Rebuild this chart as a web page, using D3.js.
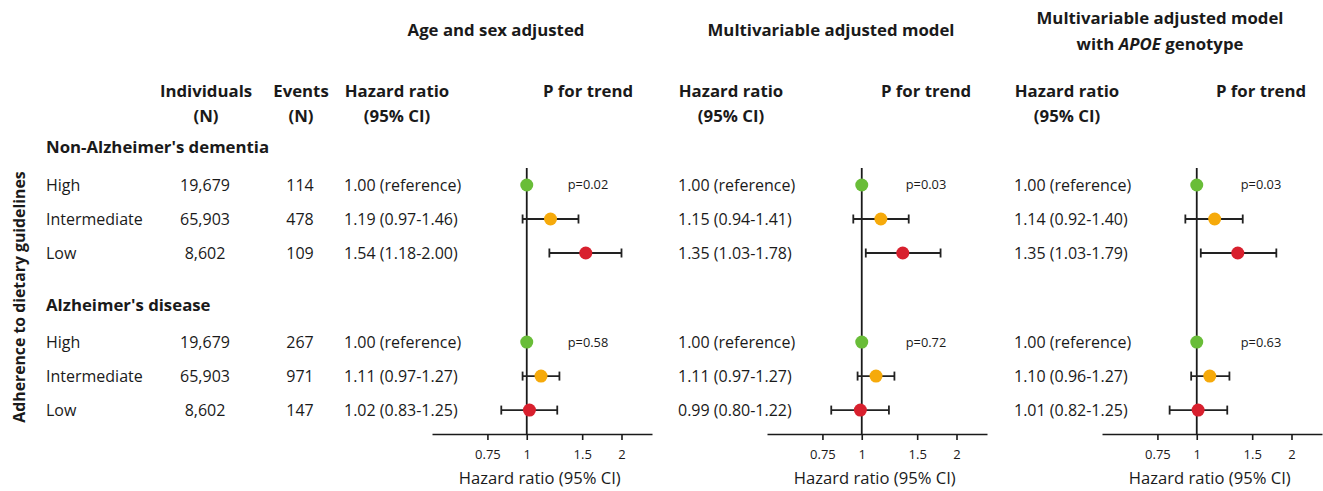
<!DOCTYPE html>
<html>
<head>
<meta charset="utf-8">
<script src="https://cdn.jsdelivr.net/npm/d3@7"></script>
<style>
  body { margin: 0; background: #fff; }
  text { font-family: "Open Sans", "DejaVu Sans", sans-serif; fill: #1a1a1a; }
  .bold { font-weight: 700; }
</style>
</head>
<body>
<div id="chart"></div>
<script>
// chart size (same as the window)
var svgWidth = 1323;
var svgHeight = 491;

// ---- data ----
var groups = ["Non-Alzheimer's dementia", "Alzheimer's disease"];
var levels = ["High", "Intermediate", "Low"];
var individuals = ["19,679", "65,903", "8,602"];
var events = [[114, 478, 109], [267, 971, 147]];

var models = ["Age and sex adjusted", "Multivariable adjusted model", "Multivariable adjusted model with APOE genotype"];

// hazard ratios [group][level] for each model
var hrAge = [[1.00, 1.19, 1.54], [1.00, 1.11, 1.02]];
var loAge = [[1.00, 0.97, 1.18], [1.00, 0.97, 0.83]];
var hiAge = [[1.00, 1.46, 2.00], [1.00, 1.27, 1.25]];

var hrMulti = [[1.00, 1.15, 1.35], [1.00, 1.11, 0.99]];
var loMulti = [[1.00, 0.94, 1.03], [1.00, 0.97, 0.80]];
var hiMulti = [[1.00, 1.41, 1.78], [1.00, 1.27, 1.22]];

var hrApoe = [[1.00, 1.14, 1.35], [1.00, 1.10, 1.01]];
var loApoe = [[1.00, 0.92, 1.03], [1.00, 0.96, 0.82]];
var hiApoe = [[1.00, 1.40, 1.79], [1.00, 1.27, 1.25]];

var pTrend = [["0.02", "0.03", "0.03"], ["0.58", "0.72", "0.63"]];

var tickValues = [0.75, 1, 1.5, 2];
var levelColors = ["#69bd38", "#f6aa0b", "#d8202e"];

// ---- layout ----
var panels = [
  { hrX: 344, pX: 588, left: 432, right: 652, hr: hrAge, lo: loAge, hi: hiAge },
  { hrX: 678, pX: 926, left: 767, right: 987, hr: hrMulti, lo: loMulti, hi: hiMulti },
  { hrX: 1014, pX: 1261, left: 1102, right: 1322, hr: hrApoe, lo: loApoe, hi: hiApoe }
];

var axisY = 434;
var lineTop = 168;
var bodyFs = "16px";
var headerFs = "16.8px";

// row slots -> pixel y
var yScale = d3.scaleLinear().domain([0, 1]).range([185, 219]);
var groupOffset = [0, 4.62];
var headerSlot = -1.1;

var svg = d3
  .select("#chart")
  .append("svg")
  .attr("width", svgWidth)
  .attr("height", svgHeight);

function fmt(v) { return v.toFixed(2); }

// y axis label (rotated)
svg.append("text")
  .attr("class", "bold")
  .attr("transform", "translate(19, 297) rotate(-90)")
  .attr("text-anchor", "middle")
  .attr("dy", "0.35em")
  .attr("font-size", "15.8px")
  .text("Adherence to dietary guidelines");

// column headers
function header(x, y, txt) {
  svg.append("text")
    .attr("class", "bold")
    .attr("x", x)
    .attr("y", y)
    .attr("text-anchor", "middle")
    .attr("dy", "0.35em")
    .attr("font-size", headerFs)
    .text(txt);
}
header(206, 91, "Individuals");
header(206, 116, "(N)");
header(301, 91, "Events");
header(301, 116, "(N)");

// model titles
header(496, 30, models[0]);
header(831, 30, models[1]);
header(1160, 18, "Multivariable adjusted model");
var apoe = svg.append("text")
  .attr("class", "bold")
  .attr("x", 1160)
  .attr("y", 44)
  .attr("text-anchor", "middle")
  .attr("dy", "0.35em")
  .attr("font-size", headerFs);
apoe.append("tspan").text("with ");
apoe.append("tspan").attr("font-style", "italic").text("APOE");
apoe.append("tspan").text(" genotype");

panels.forEach(function(p) {
  var hrCenter = p.hrX + 53;
  header(hrCenter, 91, "Hazard ratio");
  header(hrCenter, 116, "(95% CI)");
  header(p.pX, 91, "P for trend");
});

// group headers and row text
groups.forEach(function(g, gi) {
  svg.append("text")
    .attr("class", "bold")
    .attr("x", 46)
    .attr("y", yScale(groupOffset[gi] + headerSlot))
    .attr("dy", "0.35em")
    .attr("font-size", headerFs)
    .text(g);

  levels.forEach(function(lev, li) {
    var y = yScale(groupOffset[gi] + li);
    svg.append("text").attr("x", 46).attr("y", y).attr("dy", "0.35em")
      .attr("font-size", bodyFs).text(lev);
    svg.append("text").attr("x", 205).attr("y", y).attr("dy", "0.35em")
      .attr("text-anchor", "middle").attr("font-size", bodyFs).text(individuals[li]);
    svg.append("text").attr("x", 300).attr("y", y).attr("dy", "0.35em")
      .attr("text-anchor", "middle").attr("font-size", bodyFs).text(events[gi][li]);
  });
});

// forest panels
panels.forEach(function(p, pi) {
  var x = d3.scaleLog().base(2).domain([0.5, 2.5]).range([p.left, p.right]);

  var bottomAxis = d3.axisBottom(x)
    .tickValues(tickValues)
    .tickSize(6)
    .tickSizeOuter(0)
    .tickPadding(10)
    .tickFormat(d => d3.format("")(d));

  var axisG = svg.append("g")
    .attr("transform", `translate(0, ${axisY})`)
    .call(bottomAxis);
  axisG.select(".domain").attr("stroke", "#1a1a1a").attr("stroke-width", 1.6);
  axisG.selectAll(".tick line").attr("stroke", "#1a1a1a").attr("stroke-width", 1.6);
  axisG.selectAll(".tick text")
    .attr("font-size", "13px")
    .attr("font-family", "'Open Sans', sans-serif")
    .attr("fill", "#1a1a1a");

  // axis title
  svg.append("text")
    .attr("x", x(1) + 13)
    .attr("y", 478)
    .attr("dy", "0.35em")
    .attr("text-anchor", "middle")
    .attr("font-size", "16.6px")
    .text("Hazard ratio (95% CI)");

  // reference line at HR = 1
  svg.append("line")
    .attr("x1", x(1)).attr("x2", x(1))
    .attr("y1", lineTop).attr("y2", axisY)
    .attr("stroke", "#1a1a1a")
    .attr("stroke-width", 1.8);

  groups.forEach(function(g, gi) {
    // p for trend, on the "High" row
    svg.append("text")
      .attr("x", p.pX)
      .attr("y", yScale(groupOffset[gi]))
      .attr("dy", "0.35em")
      .attr("text-anchor", "middle")
      .attr("font-size", "12.8px")
      .text("p=" + pTrend[gi][pi]);

    levels.forEach(function(lev, li) {
      var y = yScale(groupOffset[gi] + li);
      var hr = p.hr[gi][li], lo = p.lo[gi][li], hi = p.hi[gi][li];

      svg.append("text")
        .attr("x", p.hrX)
        .attr("y", y)
        .attr("dy", "0.35em")
        .attr("font-size", bodyFs)
        .text(li === 0 ? "1.00 (reference)" : `${fmt(hr)} (${fmt(lo)}-${fmt(hi)})`);

      if (li > 0) {
        // CI whisker with caps
        svg.append("line")
          .attr("x1", x(lo)).attr("x2", x(hi))
          .attr("y1", y).attr("y2", y)
          .attr("stroke", "#222").attr("stroke-width", 1.8);
        [lo, hi].forEach(function(v) {
          svg.append("line")
            .attr("x1", x(v)).attr("x2", x(v))
            .attr("y1", y - 4.5).attr("y2", y + 4.5)
            .attr("stroke", "#222").attr("stroke-width", 1.8);
        });
      }

      svg.append("circle")
        .attr("cx", x(hr))
        .attr("cy", y)
        .attr("r", 6.5)
        .attr("fill", levelColors[li]);
    });
  });
});
</script>
</body>
</html>
